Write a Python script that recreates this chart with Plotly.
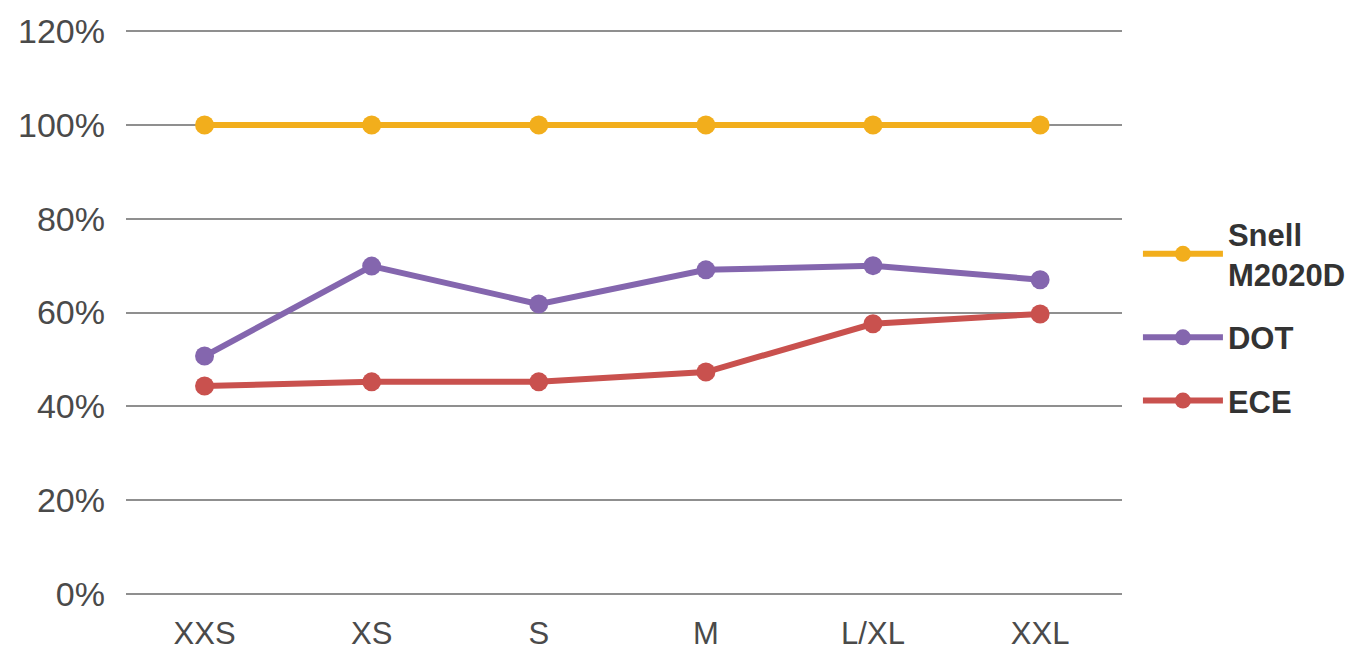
import plotly.graph_objects as go

sizes = ["XXS", "XS", "S", "M", "L/XL", "XXL"]
snell = [100, 100, 100, 100, 100, 100]
dot = [50.7, 69.9, 61.8, 69.1, 70.0, 67.0]
ece = [44.3, 45.2, 45.2, 47.3, 57.6, 59.7]

series = [
    ("Snell<br>M2020D", snell, "#F2AE1C"),
    ("DOT", dot, "#8466AE"),
    ("ECE", ece, "#C9514E"),
]

fig = go.Figure()
for i, (name, vals, col) in enumerate(series):
    fig.add_trace(go.Scatter(
        x=sizes, y=vals, name=name, mode="lines+markers",
        line=dict(color=col, width=6),
        marker=dict(color=col, size=19),
        legendgroup=f"g{i}",
        cliponaxis=False,
    ))

fig.update_layout(
    width=1358, height=644,
    margin=dict(l=118, r=244, t=21, b=56),
    paper_bgcolor="white", plot_bgcolor="white",
    font=dict(family="Liberation Sans, Arial, sans-serif", color="#4a4a4a"),
    showlegend=True,
    legend=dict(
        x=1.016, y=0.686, xanchor="left", yanchor="top",
        font=dict(family="Liberation Sans, Arial, sans-serif", size=31, color="#333333", weight="bold"),
        itemwidth=80, tracegroupgap=20, traceorder="grouped",
        bgcolor="rgba(0,0,0,0)",
    ),
    xaxis=dict(
        type="category", range=[-0.47, 5.49],
        showgrid=False, zeroline=False, showline=False, ticks="",
        tickfont=dict(size=31, color="#4a4a4a"),
        ticklabelstandoff=16, automargin=False,
    ),
    yaxis=dict(
        range=[-0.5, 120.5], tickvals=[0, 20, 40, 60, 80, 100, 120],
        ticktext=["0%", "20%", "40%", "60%", "80%", "100%", "120%"],
        showgrid=True, gridcolor="#8f8f8f", gridwidth=2,
        zeroline=False, showline=False, ticks="",
        tickfont=dict(size=34, color="#4a4a4a"),
        ticklabelstandoff=20, automargin=False,
    ),
)

fig.write_html("out.html")
